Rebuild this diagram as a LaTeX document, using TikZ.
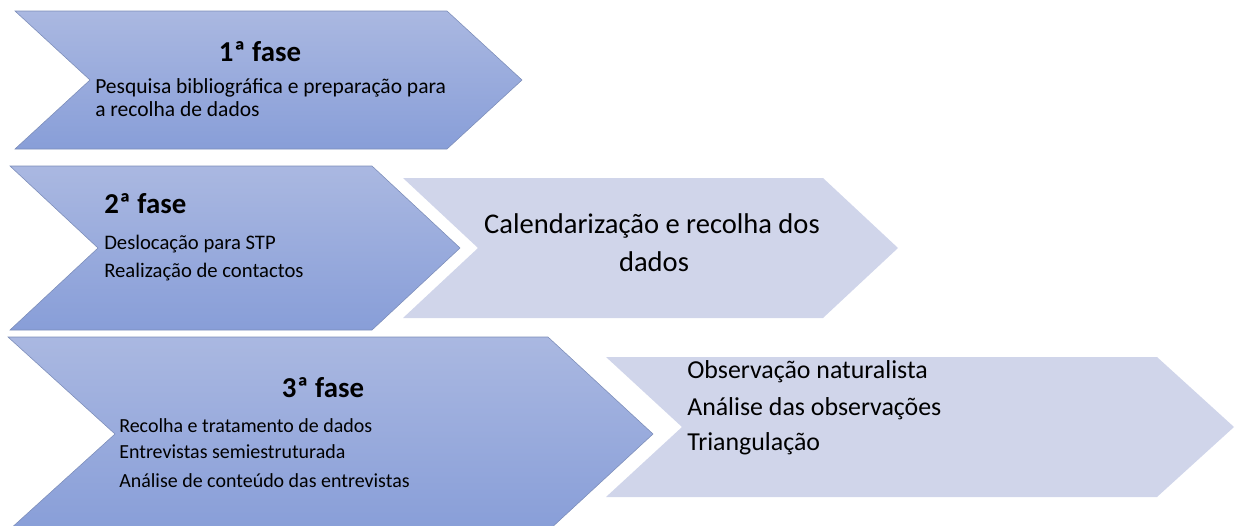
\documentclass[tikz,border=0pt]{standalone}
\usepackage{fontspec}
\setmainfont{Carlito}
\usepackage{tikz}
\usetikzlibrary{positioning}

\definecolor{chevtop}{HTML}{AAB8E1}
\definecolor{chevbot}{HTML}{889ED8}
\definecolor{chevline}{HTML}{7C8DB9}
\definecolor{chevlight}{HTML}{D0D5EA}

\begin{document}
\begin{tikzpicture}[x=0.025cm, y=-0.025cm,
    phase/.style={draw=chevline, line width=0.4pt, top color=chevtop, bottom color=chevbot},
    step light/.style={fill=chevlight},
    title/.style={font=\fontsize{20.5}{22}\selectfont\bfseries, inner sep=0pt},
    item/.style={font=\fontsize{#1}{17}\selectfont, inner sep=0pt, anchor=base west},
    item/.default=15.3,
    big/.style={font=\fontsize{20.3}{22}\selectfont, inner sep=0pt, anchor=base},
    mid/.style={font=\fontsize{18.4}{20}\selectfont, inner sep=0pt, anchor=base west}]
                \useasboundingbox (0,0) rectangle (1238,526);
                % chevrons
                \path[phase] (15,11) -- (447,11) -- (522,80) -- (447,149) -- (15,149) -- (90,80) -- cycle;
                \path[phase] (10,166) -- (372,166) -- (460,248) -- (372,330) -- (10,330) -- (98,248) -- cycle;
                \path[step light] (403,178) -- (823,178) -- (898,248) -- (823,318) -- (403,318) -- (478,248) -- cycle;
                \path[phase] (8,337) -- (548,337) -- (653,434) -- (548,531) -- (8,531) -- (115,434) -- cycle;
                \path[step light] (606,357) -- (1157,357) -- (1234,427) -- (1157,497) -- (606,497) -- (682,427) -- cycle;
                % 1a fase
                \node[title, anchor=base] (f1) at (260,61) {1ª fase};
                \node[item] (f1a) at (95,93) {Pesquisa bibliográfica e preparação para};
                \node[item] (f1b) at (95,116) {a recolha de dados};
                % 2a fase
                \node[title, anchor=base west] (f2) at (104,213) {2ª fase};
                \node[item=14.7] (f2a) at (104,249) {Deslocação para STP};
                \node[item=14.7] (f2b) at (104,277) {Realização de contactos};
                \node[big] (c1) at (652,233) {Calendarização e recolha dos};
                \node[big] (c2) at (654,271) {dados};
                % 3a fase
                \node[title, anchor=base] (f3) at (323,397) {3ª fase};
                \node[item=14.2] (f3a) at (119,432) {Recolha e tratamento de dados};
                \node[item=14.2] (f3b) at (119,458) {Entrevistas semiestruturada};
                \node[item=14.2] (f3c) at (119,487) {Análise de conteúdo das entrevistas};
                \node[mid] (o1) at (687,378) {Observação naturalista};
                \node[mid] (o2) at (687,415) {Análise das observações};
                \node[mid] (o3) at (687,450) {Triangulação};
            \end{tikzpicture}
\end{document}
